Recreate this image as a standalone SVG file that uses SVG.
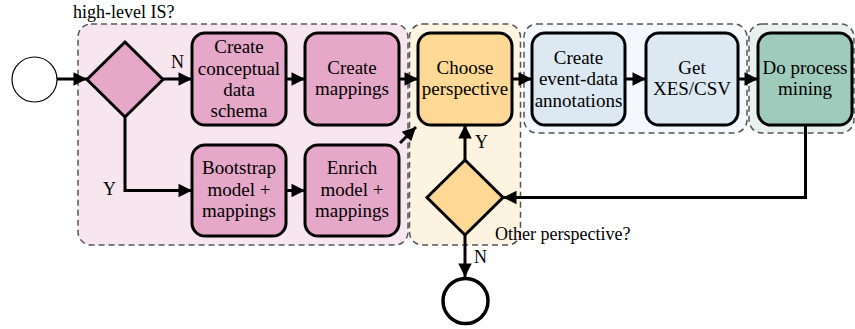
<svg xmlns="http://www.w3.org/2000/svg" width="855" height="329" viewBox="0 0 855 329">
<defs>
<style>
.grp{stroke:#555;stroke-width:1.5;stroke-dasharray:6,4}
.box{stroke:#000;stroke-width:3}
.pink{fill:#e6a8c8}.orange{fill:#fdd995}.blue{fill:#dce9f3}.green{fill:#9fcbbd}
.t{font-family:"Liberation Serif","Times New Roman",serif;font-size:19px;fill:#000;text-anchor:middle}
.lbl{font-family:"Liberation Serif","Times New Roman",serif;font-size:18px;fill:#000}
.c{fill:none;stroke:#000;stroke-width:3}
</style>
<marker id="ah" viewBox="0 0 10 10" refX="10" refY="5" markerWidth="5" markerHeight="4.5" orient="auto" markerUnits="strokeWidth">
<path d="M0,0 L10,5 L0,10 z" fill="#000"/>
</marker>
</defs>
<rect width="855" height="329" fill="#fff"/>
<g id="groups">
<rect class="grp" x="78" y="24" width="330" height="221" rx="13" fill="#f8e6ef"/>
<rect class="grp" x="409.5" y="24" width="111" height="221" rx="13" fill="#fdf3e1"/>
<rect class="grp" x="524" y="24" width="223" height="109" rx="13" fill="#f4f8fc"/>
<rect class="grp" x="749" y="24" width="105" height="109" rx="13" fill="#e8f1ed"/>
<text class="lbl" x="73" y="18">high-level IS?</text>
</g>
<g id="connectors">
<path class="c" d="M57,79 L87,79" marker-end="url(#ah)"/>
<path class="c" d="M163,79 L192,79" marker-end="url(#ah)"/>
<path class="c" d="M125,117 L125,190.5 L192,190.5" marker-end="url(#ah)"/>
<path class="c" d="M286,79 L305,79" marker-end="url(#ah)"/>
<path class="c" d="M286,190.5 L305,190.5" marker-end="url(#ah)"/>
<path class="c" d="M399,79 L418,79" marker-end="url(#ah)"/>
<path class="c" d="M400,143 L416,127" marker-end="url(#ah)"/>
<path class="c" d="M512,79 L532,79" marker-end="url(#ah)"/>
<path class="c" d="M625,79 L646,79" marker-end="url(#ah)"/>
<path class="c" d="M738,79 L758,79" marker-end="url(#ah)"/>
<path class="c" d="M805.5,125 L805.5,197.5 L503,197.5" marker-end="url(#ah)"/>
<path class="c" d="M465,160 L465,125" marker-end="url(#ah)"/>
<path class="c" d="M465,235 L465,277" marker-end="url(#ah)"/>
<text class="lbl" x="171" y="68">N</text>
<text class="lbl" x="103" y="195">Y</text>
<text class="lbl" x="475" y="148">Y</text>
<text class="lbl" x="474" y="263">N</text>
</g>
<g id="start"><circle cx="34.5" cy="79.5" r="22.5" fill="#fff" stroke="#000" stroke-width="1.2"/></g>
<g id="gw1"><polygon class="box pink" points="125,42 163,79.5 125,117 87,79.5"/></g>
<g id="n1"><rect class="box pink" x="192" y="33" width="94" height="92" rx="13"/>
<text class="t" x="239" y="53">Create</text><text class="t" x="239" y="74.5">conceptual</text><text class="t" x="239" y="96">data</text><text class="t" x="239" y="117">schema</text></g>
<g id="n2"><rect class="box pink" x="305" y="33" width="94" height="92" rx="13"/>
<text class="t" x="352" y="74">Create</text><text class="t" x="352" y="95">mappings</text></g>
<g id="n3"><rect class="box pink" x="192" y="145" width="94" height="91" rx="13"/>
<text class="t" x="239" y="174">Bootstrap</text><text class="t" x="239" y="195.5">model +</text><text class="t" x="239" y="217">mappings</text></g>
<g id="n4"><rect class="box pink" x="305" y="145" width="94" height="91" rx="13"/>
<text class="t" x="352" y="174">Enrich</text><text class="t" x="352" y="195.5">model +</text><text class="t" x="352" y="217">mappings</text></g>
<g id="n5"><rect class="box orange" x="418" y="33" width="94" height="92" rx="13"/>
<text class="t" x="465" y="74">Choose</text><text class="t" x="465" y="95">perspective</text></g>
<g id="gw2"><polygon class="box orange" points="465,160 503,197.5 465,235 427,197.5"/>
<text class="lbl" x="495" y="240">Other perspective?</text></g>
<g id="end"><circle cx="465.5" cy="301" r="22.5" fill="#fff" stroke="#000" stroke-width="3.5"/></g>
<g id="n6"><rect class="box blue" x="532" y="33" width="93" height="92" rx="13"/>
<text class="t" x="578.5" y="64">Create</text><text class="t" x="578.5" y="85">event-data</text><text class="t" x="578.5" y="106.5">annotations</text></g>
<g id="n7"><rect class="box blue" x="646" y="33" width="92" height="92" rx="13"/>
<text class="t" x="692" y="74">Get</text><text class="t" x="692" y="95">XES/CSV</text></g>
<g id="n8"><rect class="box green" x="758" y="33" width="94" height="92" rx="13"/>
<text class="t" x="805" y="74">Do process</text><text class="t" x="805" y="95">mining</text></g>
</svg>
